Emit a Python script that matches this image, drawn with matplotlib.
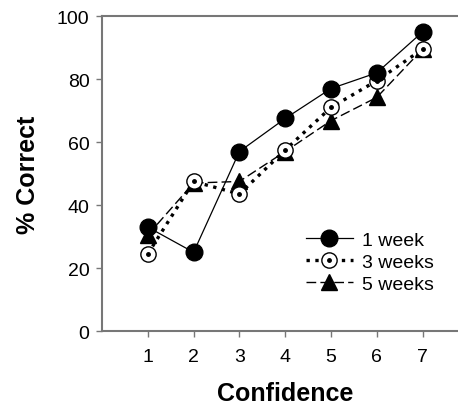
import matplotlib.pyplot as plt
from matplotlib.legend_handler import HandlerTuple

plt.rcParams['font.family'] = ['Liberation Sans', 'DejaVu Sans']

confidence = [1, 2, 3, 4, 5, 6, 7]
week1 = [33, 25, 57, 67.5, 77, 82, 95]
week3 = [24.5, 47.5, 43.5, 57.5, 71, 79.5, 89.5]
week5 = [30.5, 47, 47.5, 57, 66.8, 74.2, 89.5]

fig = plt.figure(figsize=(4.58, 4.10), dpi=100)
ax = fig.add_axes([0.2227, 0.1902, 0.80, 0.768])

l1, = ax.plot(confidence, week1, '-', color='black', lw=0.9, marker='o',
              ms=12, mfc='black', mec='black', zorder=5)
l3, = ax.plot(confidence, week3, ':', color='black', lw=2.4, marker='o',
              ms=11, mfc='white', mec='black', mew=1.0, zorder=4)
d3, = ax.plot(confidence, week3, ls='none', marker='o', ms=2.5,
              color='black', zorder=4)
l5, = ax.plot(confidence, week5, color='black', lw=1.0, dashes=(7, 3),
              marker='^', ms=11, mfc='black', mec='black', zorder=3)

ax.set_xlim(0, 8)
ax.set_ylim(0, 100)
ax.set_xticks(confidence)
ax.set_yticks([0, 20, 40, 60, 80, 100])
ax.tick_params(labelsize=14, length=4, width=1, color='#777777')
ax.tick_params(axis='x', pad=8)
ax.tick_params(axis='y', pad=5)
ax.spines['right'].set_visible(False)
for s in ax.spines.values():
    s.set_color('#777777')
    s.set_linewidth(1.5)

ax.set_xlabel('Confidence', fontsize=18, fontweight='bold', labelpad=12)
ax.set_ylabel('% Correct', fontsize=18, fontweight='bold', labelpad=12)

ax.legend([l1, (l3, d3), l5], ['1 week', '3 weeks', '5 weeks'],
          handler_map={tuple: HandlerTuple(ndivide=1)},
          loc='center', bbox_to_anchor=(0.808, 0.3585),
          bbox_transform=fig.transFigure, frameon=False,
          fontsize=14, handlelength=2.4, handletextpad=0.5,
          labelspacing=0.24)

fig.savefig('out.png', dpi=100)
